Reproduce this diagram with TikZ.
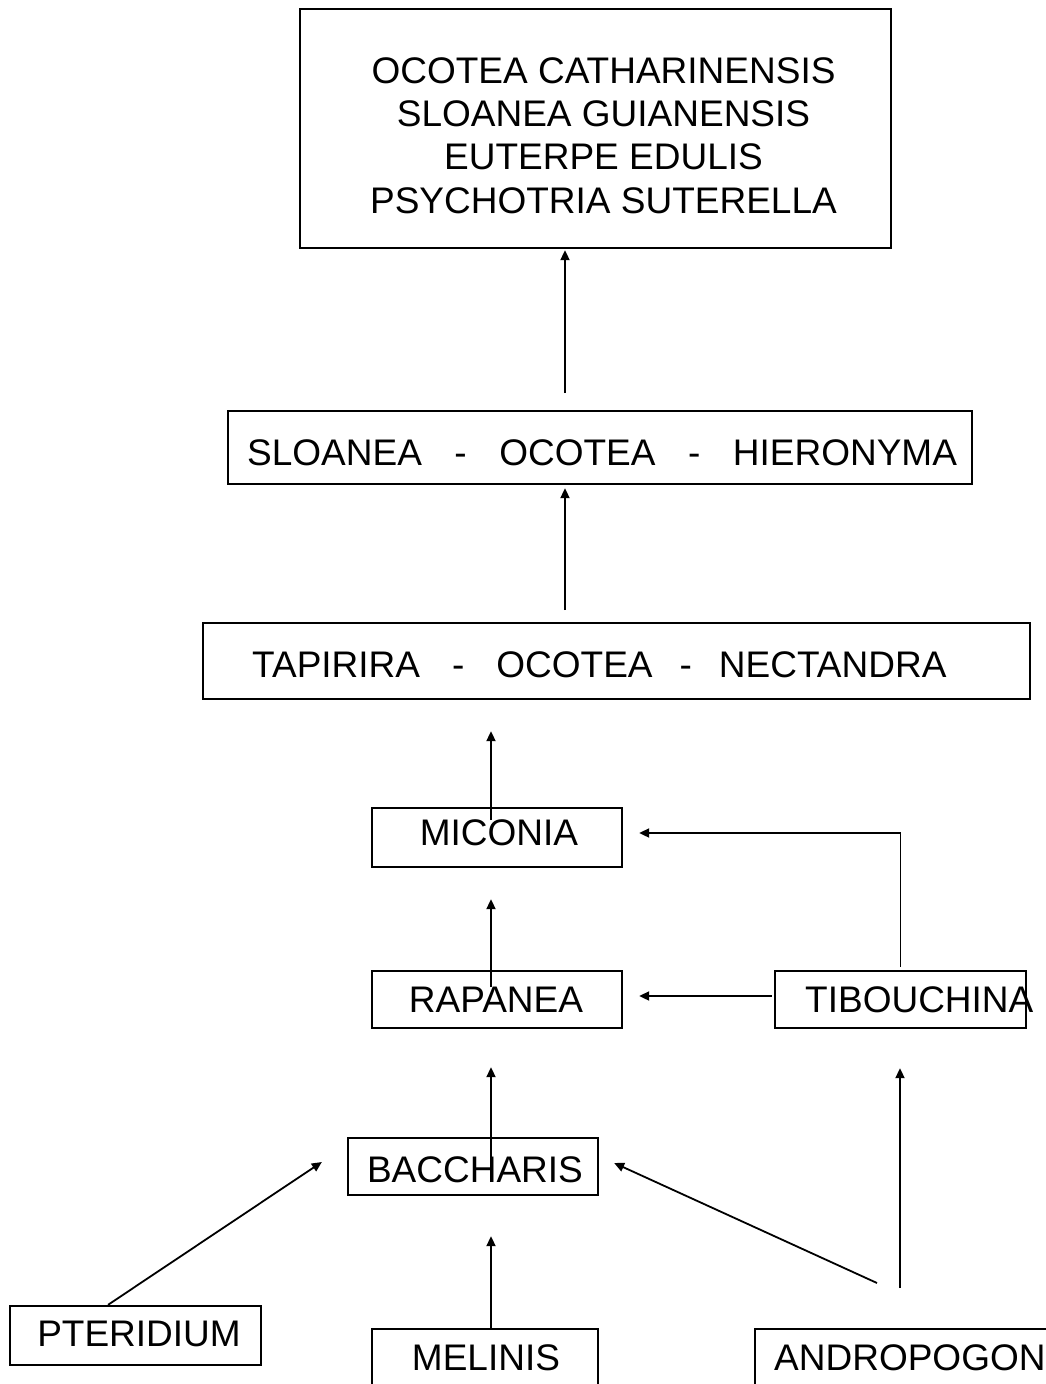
\documentclass[tikz,border=0pt]{standalone}
\usepackage{fontspec}
\setmainfont{Liberation Sans}
\usetikzlibrary{arrows.meta}

\begin{document}
\begin{tikzpicture}[x=1pt,y=-1pt,
  box/.style={draw, line width=2.3pt, inner sep=0pt},
  lbl/.style={inner sep=0pt, font=\fontsize{37}{43.3}\selectfont},
  conn/.style={line width=1.8pt, -{Triangle[length=10pt,width=9pt]}},
]
\useasboundingbox (0,0) rectangle (1046,1384);
\clip (0,0) rectangle (1046,1384);

% boxes
\node[box, minimum width=591pt, minimum height=239pt] (top) at (595.5,128.5) {};
\node[box, minimum width=744pt, minimum height=73pt] (sloanea) at (600,447.5) {};
\node[box, minimum width=827pt, minimum height=76pt] (tapirira) at (616.5,661) {};
\node[box, minimum width=250pt, minimum height=59pt] (miconia) at (497,837.5) {};
\node[box, minimum width=250pt, minimum height=57pt] (rapanea) at (497,999.5) {};
\node[box, minimum width=251pt, minimum height=57pt] (tibouchina) at (900.5,999.5) {};
\node[box, minimum width=250pt, minimum height=57pt] (baccharis) at (473,1166.5) {};
\node[box, minimum width=251pt, minimum height=59pt] (pteridium) at (135.5,1335.5) {};
\node[box, minimum width=226pt, minimum height=61pt] (melinis) at (485,1359.5) {};
\node[box, minimum width=315pt, minimum height=61pt] (andropogon) at (912.5,1359.5) {};

% labels
\node[lbl, align=center] (topText) at (603.5,135.5)
  {OCOTEA CATHARINENSIS\\SLOANEA GUIANENSIS\\EUTERPE EDULIS\\PSYCHOTRIA SUTERELLA};
\node[lbl, anchor=west] (sloaneaText) at (247,453)
  {SLOANEA\hspace{32.5pt}-\hspace{32.5pt}OCOTEA\hspace{32.5pt}-\hspace{32.5pt}HIERONYMA};
\node[lbl, anchor=west] (tapiriraText) at (252,665)
  {TAPIRIRA\hspace{32pt}-\hspace{32pt}OCOTEA\hspace{27pt}-\hspace{27pt}NECTANDRA};
\node[lbl] (miconiaText) at (499,833) {MICONIA};
\node[lbl] (rapaneaText) at (496,1000) {RAPANEA};
\node[lbl, anchor=west] (tibouchinaText) at (805,1000) {TIBOUCHINA};
\node[lbl] (baccharisText) at (475,1170) {BACCHARIS};
\node[lbl] (pteridiumText) at (139,1334) {PTERIDIUM};
\node[lbl] (melinisText) at (486,1358) {MELINIS};
\node[lbl, anchor=west] (andropogonText) at (774,1358) {ANDROPOGON};

% free ends of the connectors
\coordinate (s1) at (565,393);
\coordinate (s2) at (565,610);
\coordinate (m1) at (491,820);
\coordinate (r1) at (491,987);
\coordinate (b1) at (491,1158);
\coordinate (a1) at (877,1283);
\coordinate (a2) at (900,1288);

% connectors
\draw[conn, shorten >=1pt] (s1) -- (s1 |- top.south);
\draw[conn, shorten >=3pt] (s2) -- (s2 |- sloanea.south);
\draw[conn, shorten >=31pt] (m1) -- (m1 |- tapirira.south);
\draw[conn, shorten >=31pt] (r1) -- (r1 |- miconia.south);
\draw[conn, shorten >=38pt] (b1) -- (b1 |- rapanea.south);
\draw[conn] ([yshift=3pt]tibouchina.north) |- ([xshift=16pt,yshift=4.5pt]miconia.east);
\draw[conn] ([xshift=-2pt,yshift=3.5pt]tibouchina.west) -- ([xshift=16pt,yshift=3.5pt]rapanea.east);
\draw[conn, shorten >=40pt] ([xshift=6pt]melinis.north) -- ([xshift=18pt]baccharis.south);
\draw[conn] ([xshift=-27.5pt]pteridium.north) -- ([xshift=-25pt,yshift=4.5pt]baccharis.west);
\draw[conn] (a1) -- ([xshift=15pt,yshift=3.5pt]baccharis.east);
\draw[conn, shorten >=39pt] (a2) -- (a2 |- tibouchina.south);
\end{tikzpicture}
\end{document}
